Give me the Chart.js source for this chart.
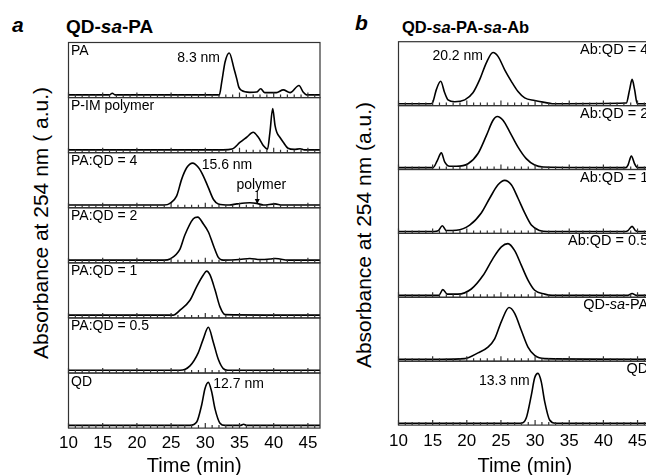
<!DOCTYPE html>
<html>
<head>
<meta charset="utf-8">
<script src="https://cdn.jsdelivr.net/npm/chart.js@4"></script>
<style>
  html, body { margin: 0; padding: 0; background: #fff; overflow: hidden; }
  body { width: 646px; height: 475px; position: relative; font-family: "Liberation Sans", Arial, sans-serif; }
  canvas { position: absolute; top: 0; }
  .txt { position: absolute; white-space: nowrap; line-height: 1; color: #000; }
  .ytitle { position: absolute; white-space: nowrap; line-height: 1; font-size: 21px; transform: translate(-50%, -50%) rotate(-90deg); }
</style>
</head>
<body>
<div class="txt" style="left:12px;top:14px;font-size:21px;font-weight:bold;font-style:italic">a</div>
<div class="txt" style="left:66px;top:17px;font-size:19px;font-weight:bold">QD-<i>sa</i>-PA</div>
<div class="txt" style="left:355px;top:12px;font-size:21px;font-weight:bold;font-style:italic">b</div>
<div class="txt" style="left:402px;top:19px;font-size:16.5px;font-weight:bold">QD-<i>sa</i>-PA-<i>sa</i>-Ab</div>
<div class="ytitle" style="left:39.5px;top:222.5px">Absorbance at 254 nm ( a.u.)</div>
<div class="ytitle" style="left:362.5px;top:235px">Absorbance at 254 nm (a.u.)</div>
<canvas id="chartA" width="330" height="475" style="left:0"></canvas>
<canvas id="chartB" width="330" height="475" style="left:330px"></canvas>
<script>
// ---- panel a : QD-sa-PA (top to bottom) ----
const labelsA = ["PA", "P-IM polymer", "PA:QD = 4", "PA:QD = 2", "PA:QD = 1", "PA:QD = 0.5", "QD"];

const timePA = [10, 16, 16.4, 16.8, 31, 32.05, 32.4, 32.9, 33.5, 34.2, 34.6, 34.9, 35.3, 36.5, 37.5, 38.1, 38.7, 40.4, 41.4, 42.4, 43.7, 44.3, 44.8, 47];
const absPA  = [0, 0, 0.03, 0, 0, 0, 0.23, 0.6, 0.76, 0.475, 0.29, 0.14, 0.08, 0.045, 0.05, 0.11, 0.04, 0.04, 0.09, 0.04, 0.17, 0.05, 0, 0];

const timePIM = [10, 32.6, 33.9, 35.1, 36.05, 37.0, 37.75, 38.5, 39.1, 39.45, 39.85, 40.2, 40.45, 40.9, 41.4, 42.1, 43.0, 43.85, 44.5, 47];
const absPIM  = [0, 0, 0.015, 0.14, 0.23, 0.32, 0.23, 0.077, 0.015, 0.32, 0.75, 0.44, 0.32, 0.23, 0.14, 0.03, 0.01, 0.02, 0, 0];

const timeR4 = [10, 24.0, 24.84, 25.8, 26.55, 27.3, 28.15, 29.0, 29.7, 30.4, 31.2, 31.9, 33.5, 34.6, 36.5, 37.5, 38.5, 40.2, 41.2, 47];
const absR4  = [0, 0, 0.03, 0.16, 0.47, 0.68, 0.76, 0.68, 0.53, 0.33, 0.1, 0.02, 0, 0.02, 0.04, 0.03, 0, 0.02, 0, 0];

const timeR2 = [10, 24.0, 24.84, 26.3, 27.0, 28.25, 28.9, 29.7, 30.45, 31.2, 31.9, 32.6, 35.0, 36.5, 38.0, 39.5, 40.2, 40.9, 42, 47];
const absR2  = [0, 0, 0.02, 0.2, 0.45, 0.75, 0.78, 0.66, 0.51, 0.26, 0.05, 0, 0.01, 0.03, 0.01, 0.02, 0.03, 0.02, 0, 0];

const timeR1 = [10, 25.3, 26.3, 27.76, 28.74, 29.71, 30.2, 30.69, 31.42, 32.15, 32.9, 47];
const absR1  = [0, 0, 0.09, 0.27, 0.52, 0.73, 0.8, 0.73, 0.46, 0.15, 0.01, 0];

const timeR05 = [10, 26.3, 27.76, 28.98, 29.71, 30.44, 31.17, 31.9, 32.63, 33.3, 47];
const absR05  = [0, 0, 0.08, 0.32, 0.57, 0.78, 0.51, 0.2, 0.03, 0, 0];

const timeQD = [10, 27.76, 28.74, 29.47, 29.96, 30.44, 30.93, 31.42, 32.15, 32.9, 35.2, 35.6, 36.0, 47];
const absQD  = [0, 0, 0.06, 0.37, 0.67, 0.78, 0.61, 0.3, 0.04, 0, 0, 0.02, 0, 0];

// ---- panel b : QD-sa-PA-sa-Ab (top to bottom) ----
const labelsB = ["Ab:QD = 4", "Ab:QD = 2", "Ab:QD = 1", "Ab:QD = 0.5", "QD-<i>sa</i>-PA", "QD"];

const timeB4 = [10, 14.8, 15.05, 15.54, 16.18, 16.76, 17.25, 18.23, 19.7, 20.9, 21.9, 22.86, 23.84, 24.57, 25.55, 26.52, 27.5, 28.48, 29.94, 31.4, 32.5, 43.35, 43.84, 44.2, 44.57, 44.96, 47];
const absB4  = [0, 0, 0.03, 0.22, 0.35, 0.17, 0.06, 0.03, 0.06, 0.17, 0.38, 0.64, 0.80, 0.74, 0.53, 0.35, 0.19, 0.09, 0.05, 0.02, 0, 0.01, 0.22, 0.38, 0.22, 0, 0];

const timeB2 = [10, 15.05, 15.68, 16.27, 16.76, 17.5, 18.47, 20.18, 21.64, 22.86, 23.84, 24.47, 25.3, 26.28, 27.5, 28.7, 29.94, 31.2, 43.3, 43.6, 44.1, 44.57, 45.0, 47];
const absB2  = [0, 0, 0.11, 0.23, 0.09, 0.02, 0.02, 0.06, 0.22, 0.5, 0.74, 0.80, 0.74, 0.56, 0.32, 0.14, 0.04, 0.01, 0, 0.04, 0.18, 0.06, 0, 0];

const timeB1 = [10, 15.2, 15.8, 16.42, 17.0, 18.47, 20.42, 22.12, 23.35, 24.57, 25.55, 26.52, 27.5, 28.48, 29.45, 30.67, 31.8, 43.3, 43.6, 44.2, 44.7, 45.1, 47];
const absB1  = [0, 0, 0.01, 0.09, 0.015, 0.02, 0.1, 0.29, 0.52, 0.73, 0.80, 0.73, 0.52, 0.29, 0.1, 0.015, 0, 0, 0.015, 0.08, 0.015, 0, 0];

const timeB05 = [10, 15.9, 16.5, 17.15, 18.7, 20.66, 22.37, 23.84, 25.06, 26.03, 27.01, 27.99, 28.96, 29.94, 31.4, 32.5, 43.6, 44.2, 44.8, 47];
const absB05  = [0, 0, 0.09, 0.02, 0.02, 0.1, 0.31, 0.58, 0.76, 0.81, 0.7, 0.47, 0.24, 0.08, 0.02, 0, 0, 0.03, 0, 0];

const timeBPA = [10, 16.27, 19.69, 21.64, 23.1, 24.08, 25.06, 26.18, 27.01, 27.99, 28.96, 29.94, 31.4, 47];
const absBPA  = [0, 0, 0.01, 0.1, 0.19, 0.32, 0.59, 0.81, 0.72, 0.45, 0.19, 0.06, 0.01, 0];

const timeBQD = [10, 27.99, 28.7, 29.45, 29.94, 30.42, 30.9, 31.4, 32.13, 33.0, 47];
const absBQD  = [0, 0, 0.08, 0.44, 0.71, 0.78, 0.65, 0.34, 0.05, 0, 0];

const xTickStep = 5;

const FONT = '"Liberation Sans", Arial, sans-serif';

// draw a label that may contain <i>..</i> parts
function drawRich(ctx, str, x, y, align, size) {
  const parts = str.split(/(<i>.*?<\/i>)/).filter(p => p.length);
  const segs = parts.map(p => {
    const it = p.startsWith("<i>");
    return { text: it ? p.slice(3, -4) : p, font: (it ? "italic " : "") + size + "px " + FONT };
  });
  let w = 0;
  segs.forEach(s => { ctx.font = s.font; s.w = ctx.measureText(s.text).width; w += s.w; });
  let cx = align === "right" ? x - w : align === "center" ? x - w / 2 : x;
  ctx.textAlign = "left";
  ctx.textBaseline = "alphabetic";
  segs.forEach(s => { ctx.font = s.font; ctx.fillText(s.text, cx, y); cx += s.w; });
}

// frames, inner ticks, row labels and notes
const framePlugin = {
  id: "frames",
  afterDatasetsDraw(chart, args, opts) {
    const ctx = chart.ctx, area = chart.chartArea, xs = chart.scales.x;
    ctx.save();
    ctx.strokeStyle = "#333";
    ctx.lineWidth = 1.2;
    ctx.fillStyle = "#000";
    opts.labels.forEach((lab, i) => {
      const s = chart.scales["y" + i];
      ctx.strokeRect(area.left, s.top, area.width, s.height);
      ctx.beginPath();
      for (let t = Math.ceil(xs.min); t <= xs.max; t++) {
        const x = xs.getPixelForValue(t);
        const len = t % 5 === 0 ? 5 : 3;
        ctx.moveTo(x, s.bottom);
        ctx.lineTo(x, s.bottom - len);
      }
      ctx.stroke();
      if (opts.labelSide === "right") drawRich(ctx, lab, area.right - 3, s.top + 12, "right", 14.5);
      else drawRich(ctx, lab, area.left + 2.5, s.top + 12.5, "left", 14);
    });
    (opts.notes || []).forEach(n => {
      const ys = chart.scales["y" + n.row];
      drawRich(ctx, n.text, xs.getPixelForValue(n.t), ys.getPixelForValue(n.v), n.align, 14);
    });
    (opts.arrows || []).forEach(a => {
      const ys = chart.scales["y" + a.row];
      const x = xs.getPixelForValue(a.t), y1 = ys.getPixelForValue(a.from), y2 = ys.getPixelForValue(a.to);
      ctx.strokeStyle = "#000";
      ctx.lineWidth = 1;
      ctx.beginPath(); ctx.moveTo(x, y1); ctx.lineTo(x, y2); ctx.stroke();
      ctx.beginPath(); ctx.moveTo(x, y2); ctx.lineTo(x - 2.5, y2 - 5); ctx.lineTo(x + 2.5, y2 - 5); ctx.closePath(); ctx.fill();
    });
    ctx.restore();
  }
};

function makePanel(canvasId, traces, labels, cfg) {
  const scales = {
    x: {
      type: "linear", position: "bottom", min: 10, max: cfg.xmax,
      grid: { display: false, drawTicks: false }, border: { display: false },
      ticks: { stepSize: xTickStep, includeBounds: false, padding: cfg.tickPad, maxRotation: 0, autoSkip: false,
               color: "#000", font: { family: FONT, size: 17 } },
      title: { display: true, text: "Time (min)", color: "#000", padding: { top: cfg.titlePad, bottom: 0 },
               font: { family: FONT, size: 20, lineHeight: 1 } }
    }
  };
  // stacked axes are laid out bottom-up, so add the lowest row first
  for (let i = traces.length - 1; i >= 0; i--) {
    scales["y" + i] = {
      type: "linear", position: "left", stack: "rows", stackWeight: 1,
      min: cfg.ymin, max: cfg.ymin + 1,
      grid: { display: false, drawTicks: false }, border: { display: false },
      ticks: { display: false }
    };
  }
  return new Chart(document.getElementById(canvasId), {
    type: "line",
    data: {
      datasets: traces.map((tr, i) => ({
        label: labels[i],
        data: tr[0].map((t, k) => ({ x: t, y: tr[1][k] })),
        yAxisID: "y" + i,
        borderColor: "#000",
        borderWidth: 1.6,
        pointRadius: 0,
        fill: false,
        cubicInterpolationMode: "monotone"
      }))
    },
    options: {
      responsive: false,
      animation: false,
      devicePixelRatio: 1,
      layout: { padding: cfg.padding },
      scales: scales,
      plugins: {
        legend: { display: false },
        tooltip: { enabled: false },
        frames: { labels: labels, labelSide: cfg.labelSide, notes: cfg.notes, arrows: cfg.arrows }
      }
    },
    plugins: [framePlugin]
  });
}

makePanel("chartA",
  [[timePA, absPA], [timePIM, absPIM], [timeR4, absR4], [timeR2, absR2], [timeR1, absR1], [timeR05, absR05], [timeQD, absQD]],
  labelsA,
  {
    xmax: 46.77, ymin: -0.05, tickPad: 5, titlePad: -2.5,
    padding: { left: 68.5, right: 10, top: 42.5, bottom: -1 },
    labelSide: "left",
    notes: [
      { text: "8.3 nm", row: 0, t: 32.15, v: 0.6, align: "right" },
      { text: "15.6 nm", row: 2, t: 29.47, v: 0.66, align: "left" },
      { text: "polymer", row: 2, t: 38.19, v: 0.285, align: "center" },
      { text: "12.7 nm", row: 6, t: 31.17, v: 0.67, align: "left" }
    ],
    arrows: [{ row: 2, t: 37.6, from: 0.26, to: 0.02 }]
  });

makePanel("chartB",
  [[timeB4, absB4], [timeB2, absB2], [timeB1, absB1], [timeB05, absB05], [timeBPA, absBPA], [timeBQD, absBQD]],
  labelsB,
  {
    xmax: 47, ymin: -0.03, tickPad: 6.5, titlePad: -2.5,
    padding: { left: 68.5, right: 8.8, top: 41.7, bottom: -1 },
    labelSide: "right",
    notes: [
      { text: "20.2 nm", row: 0, t: 22.37, v: 0.68, align: "right" },
      { text: "13.3 nm", row: 5, t: 29.2, v: 0.59, align: "right" }
    ]
  });
</script>
</body>
</html>
